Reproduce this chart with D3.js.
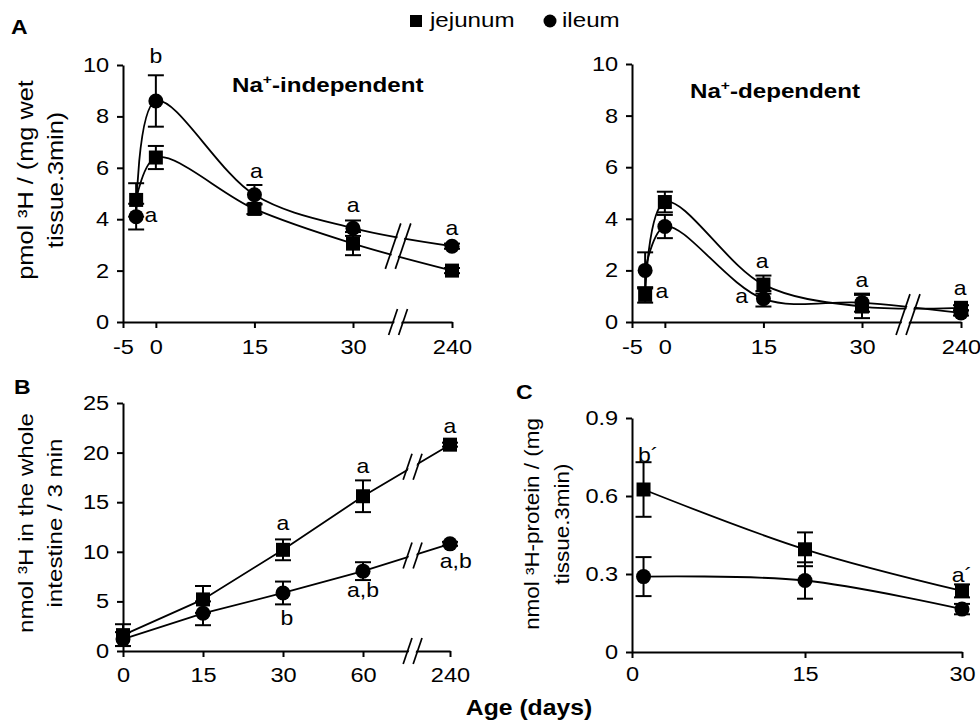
<!DOCTYPE html>
<html>
<head>
<meta charset="utf-8">
<script src="https://cdn.jsdelivr.net/npm/d3@7"></script>
<style>
body { margin: 0; background: #fff; }
svg { display: block; font-family: "Liberation Sans", Arial, sans-serif; }
</style>
</head>
<body>
<svg id="chart" width="980" height="722"></svg>
<script>
// ---- values ----
// panel A, pmol 3H / (mg wet tissue . 3 min)
const daysA = [-3, 0, 15, 30, 240];
const indepJej = [4.75, 6.4, 4.4, 3.05, 2.0];
const indepJejErr = [0.65, 0.45, 0.2, 0.45, 0.1];
const indepIle = [4.1, 8.6, 4.95, 3.65, 2.95];
const indepIleErr = [0.5, 1.0, 0.38, 0.3, 0.1];
const depJej = [1.05, 4.65, 1.45, 0.6, 0.55];
const depJejErr = [0.3, 0.4, 0.35, 0.45, 0.1];
const depIle = [2.0, 3.7, 0.9, 0.75, 0.35];
const depIleErr = [0.7, 0.45, 0.3, 0.35, 0.1];

// panel B, nmol 3H in the whole intestine / 3 min
const daysB = [0, 15, 30, 60, 240];
const wholeJej = [1.6, 5.2, 10.2, 15.6, 20.8];
const wholeJejErr = [1.1, 1.35, 1.05, 1.6, 0.2];
const wholeIle = [1.2, 3.8, 5.85, 8.05, 10.8];
const wholeIleErr = [0.7, 1.2, 1.15, 0.9, 0.2];

// panel C, nmol 3H-protein / (mg tissue . 3 min)
const daysC = [1, 15, 30];
const protJej = [0.625, 0.395, 0.235];
const protJejErr = [0.105, 0.065, 0.025];
const protIle = [0.29, 0.275, 0.165];
const protIleErr = [0.075, 0.07, 0.02];

// tick labels
const ticksAx = [-5, 0, 15, 30, 240];
const ticksAy = [0, 2, 4, 6, 8, 10];
const ticksBx = [0, 15, 30, 60, 240];
const ticksBy = [0, 5, 10, 15, 20, 25];
const ticksCx = [0, 15, 30];
const ticksCy = [0, 0.3, 0.6, 0.9];

// significance letters: [day, value, text]
const lettersIndep = [[0, 10.08, 'b'], [-0.77, 3.89, 'a'], [15.3, 5.6, 'a'], [30.4, 4.28, 'a'], [240, 3.39, 'a']];
const lettersDep = [[-0.45, 0.93, 'a'], [14.8, 2.09, 'a'], [11.7, 0.74, 'a'], [30, 1.36, 'a'], [238, 1.05, 'a']];
const lettersWhole = [[30, 12.2, 'a'], [31.5, 2.6, 'b'], [60, 17.9, 'a'], [60, 5.4, 'a,b'], [240, 22.0, 'a'], [252, 8.4, 'a,b']];
const lettersProt = [[1.4, 0.73, 'b\u00b4'], [30, 0.27, 'a\u00b4']];

// glyphs in the original are a bit wider than Liberation Sans
const SX = 1.15;

let svg = d3.select('#chart');

let addText = (g, x, y, str, size, opts = {}) => {
    let rot = opts.rotate ? ' rotate(-90)' : '';
    return g.append('text')
        .attr('transform', `translate(${x},${y})${rot} scale(${SX},1)`)
        .attr('font-size', size)
        .attr('font-weight', opts.bold ? 'bold' : null)
        .attr('text-anchor', opts.anchor || 'start')
        .text(str);
}

let addSupText = (g, x, y, before, sup, after, size, opts = {}) => {
    let t = addText(g, x, y, '', size, opts);
    t.append('tspan').text(before);
    t.append('tspan').attr('font-size', size * 0.65).attr('dy', -size * 0.38).text(sup);
    t.append('tspan').attr('dy', size * 0.38).text(after);
    return t;
}

let drawPanel = (cfg) => {
    let g = svg.append('g');
    let x = d3.scaleLinear().domain(cfg.xDomain).range(cfg.xRange);
    let y = d3.scaleLinear().domain(cfg.yDomain).range(cfg.yRange);

    let xAxis = d3.axisBottom(x)
        .tickValues(cfg.xTicks)
        .tickFormat(d => String(d))
        .tickSize(6)
        .tickSizeOuter(0)
        .tickPadding(cfg.xPad);
    let yAxis = d3.axisLeft(y)
        .tickValues(cfg.yTicks)
        .tickFormat(d => String(d))
        .tickSize(6)
        .tickSizeOuter(0)
        .tickPadding(6);

    let x0 = cfg.xRange[0];
    let y0 = cfg.yRange[0];

    let gx = g.append('g').attr('transform', `translate(0,${y0})`).call(xAxis);
    let gy = g.append('g').attr('transform', `translate(${x0},0)`).call(yAxis);
    [gx, gy].forEach(ax => {
        ax.select('.domain').attr('stroke-width', 2);
        ax.selectAll('.tick line').attr('stroke-width', 2);
        ax.selectAll('.tick text')
            .attr('font-size', 20.5)
            .attr('font-family', '"Liberation Sans", Arial, sans-serif')
            .attr('fill', '#000')
            .attr('transform', `scale(${SX},1)`);
    });

    let line = d3.line()
        .x(d => x(d[0]))
        .y(d => y(d[1]))
        .curve(cfg.smooth ? d3.curveCatmullRom : d3.curveLinear);

    cfg.series.forEach(s => {
        let pts = s.days.map((d, i) => [d, s.vals[i], s.errs[i]]);
        g.append('path')
            .attr('d', line(pts))
            .attr('fill', 'none')
            .attr('stroke', '#000')
            .attr('stroke-width', 1.8);

        let eb = g.append('g').attr('stroke', '#000').attr('stroke-width', 2);
        pts.forEach(p => {
            let cx = x(p[0]);
            eb.append('line').attr('x1', cx).attr('x2', cx).attr('y1', y(p[1] - p[2])).attr('y2', y(p[1] + p[2]));
            [p[1] - p[2], p[1] + p[2]].forEach(v => {
                eb.append('line').attr('x1', cx - 8).attr('x2', cx + 8).attr('y1', y(v)).attr('y2', y(v));
            });
        });

        pts.forEach(p => {
            if (s.shape === 'square') {
                g.append('rect')
                    .attr('x', x(p[0]) - 7).attr('y', y(p[1]) - 7)
                    .attr('width', 14).attr('height', 14).attr('fill', '#000');
            } else {
                g.append('circle')
                    .attr('cx', x(p[0])).attr('cy', y(p[1])).attr('r', 7.5).attr('fill', '#000');
            }
        });
    });

    // axis breaks
    if (cfg.brk) {
        let lo = cfg.brk.from, hi = cfg.brk.to;
        let bx = x(lo) + cfg.brk.frac * (x(hi) - x(lo));
        let crossY = key => {
            if (key === 'axis') return y0;
            let s = cfg.series.find(q => q.key === key);
            let ya = y(s.vals[s.days.indexOf(lo)]);
            let yb = y(s.vals[s.days.indexOf(hi)]);
            return ya + cfg.brk.frac * (yb - ya);
        };
        cfg.brk.groups.forEach(keys => {
            let ys = keys.map(crossY);
            let top = d3.min(ys) - 13, bot = d3.max(ys) + 13;
            let h = bot - top;
            let s = h * 0.17;
            let gap = 5;
            g.append('polygon')
                .attr('points', [
                    [bx - s - gap + 1.5, bot], [bx + s - gap + 1.5, top],
                    [bx + s + gap - 1.5, top], [bx - s + gap - 1.5, bot]
                ].map(p => p.join(',')).join(' '))
                .attr('fill', '#fff');
            [-gap, gap].forEach(off => {
                g.append('line')
                    .attr('x1', bx - s + off).attr('y1', bot)
                    .attr('x2', bx + s + off).attr('y2', top)
                    .attr('stroke', '#000').attr('stroke-width', 1.7);
            });
        });
    }

    cfg.letters.forEach(l => {
        addText(g, x(l[0]), y(l[1]), l[2], 20, { anchor: 'middle' });
    });
}

drawPanel({
    xDomain: [-5, 30, 240], xRange: [123, 353, 452],
    yDomain: [0, 10], yRange: [322, 65],
    xTicks: ticksAx, yTicks: ticksAy, xPad: 11, smooth: true,
    series: [
        { key: 'jej', days: daysA, vals: indepJej, errs: indepJejErr, shape: 'square' },
        { key: 'ile', days: daysA, vals: indepIle, errs: indepIleErr, shape: 'circle' }
    ],
    brk: { from: 30, to: 240, frac: 0.455, groups: [['jej', 'ile'], ['axis']] },
    letters: lettersIndep
});

drawPanel({
    xDomain: [-5, 30, 240], xRange: [632, 862, 961],
    yDomain: [0, 10], yRange: [322, 64],
    xTicks: ticksAx, yTicks: ticksAy, xPad: 11, smooth: true,
    series: [
        { key: 'jej', days: daysA, vals: depJej, errs: depJejErr, shape: 'square' },
        { key: 'ile', days: daysA, vals: depIle, errs: depIleErr, shape: 'circle' }
    ],
    brk: { from: 30, to: 240, frac: 0.465, groups: [['jej', 'ile', 'axis']] },
    letters: lettersDep
});

drawPanel({
    xDomain: [0, 15, 30, 60, 240], xRange: [123, 203, 283, 363, 450],
    yDomain: [0, 25], yRange: [651, 403],
    xTicks: ticksBx, yTicks: ticksBy, xPad: 10, smooth: false,
    series: [
        { key: 'jej', days: daysB, vals: wholeJej, errs: wholeJejErr, shape: 'square' },
        { key: 'ile', days: daysB, vals: wholeIle, errs: wholeIleErr, shape: 'circle' }
    ],
    brk: { from: 60, to: 240, frac: 0.57, groups: [['jej'], ['ile'], ['axis']] },
    letters: lettersWhole
});

drawPanel({
    xDomain: [0, 15, 30], xRange: [632, 805, 962],
    yDomain: [0, 0.9], yRange: [652, 418],
    xTicks: ticksCx, yTicks: ticksCy, xPad: 8, smooth: true,
    series: [
        { key: 'jej', days: daysC, vals: protJej, errs: protJejErr, shape: 'square' },
        { key: 'ile', days: daysC, vals: protIle, errs: protIleErr, shape: 'circle' }
    ],
    brk: null,
    letters: lettersProt
});

// titles, axis labels, legend
let ann = svg.append('g').attr('fill', '#000');

addText(ann, 11, 34, 'A', 20, { bold: true });
addText(ann, 14, 394, 'B', 20, { bold: true });
addText(ann, 516, 399, 'C', 20, { bold: true });

addSupText(ann, 232, 92, 'Na', '+', '-independent', 21, { bold: true });
addSupText(ann, 690, 98, 'Na', '+', '-dependent', 21, { bold: true });

addText(ann, 33, 180, 'pmol \u00b3H / (mg wet', 22, { rotate: true, anchor: 'middle' });
addText(ann, 63, 180, 'tissue.3min)', 22, { rotate: true, anchor: 'middle' });

addText(ann, 33, 523, 'nmol \u00b3H in the whole', 21, { rotate: true, anchor: 'middle' });
addText(ann, 62, 523, 'intestine / 3 min', 21, { rotate: true, anchor: 'middle' });

addText(ann, 539, 524, 'nmol \u00b3H-protein / (mg', 19.5, { rotate: true, anchor: 'middle' });
addText(ann, 569, 524, 'tissue.3min)', 19.5, { rotate: true, anchor: 'middle' });

addText(ann, 529, 715, 'Age (days)', 21.5, { bold: true, anchor: 'middle' });

// legend
const legendItems = ['jejunum', 'ileum'];
ann.append('rect').attr('x', 410).attr('y', 15).attr('width', 12).attr('height', 12);
addText(ann, 430, 27, legendItems[0], 21);
ann.append('circle').attr('cx', 550).attr('cy', 21).attr('r', 6.5);
addText(ann, 562, 27, legendItems[1], 21);
</script>
</body>
</html>
